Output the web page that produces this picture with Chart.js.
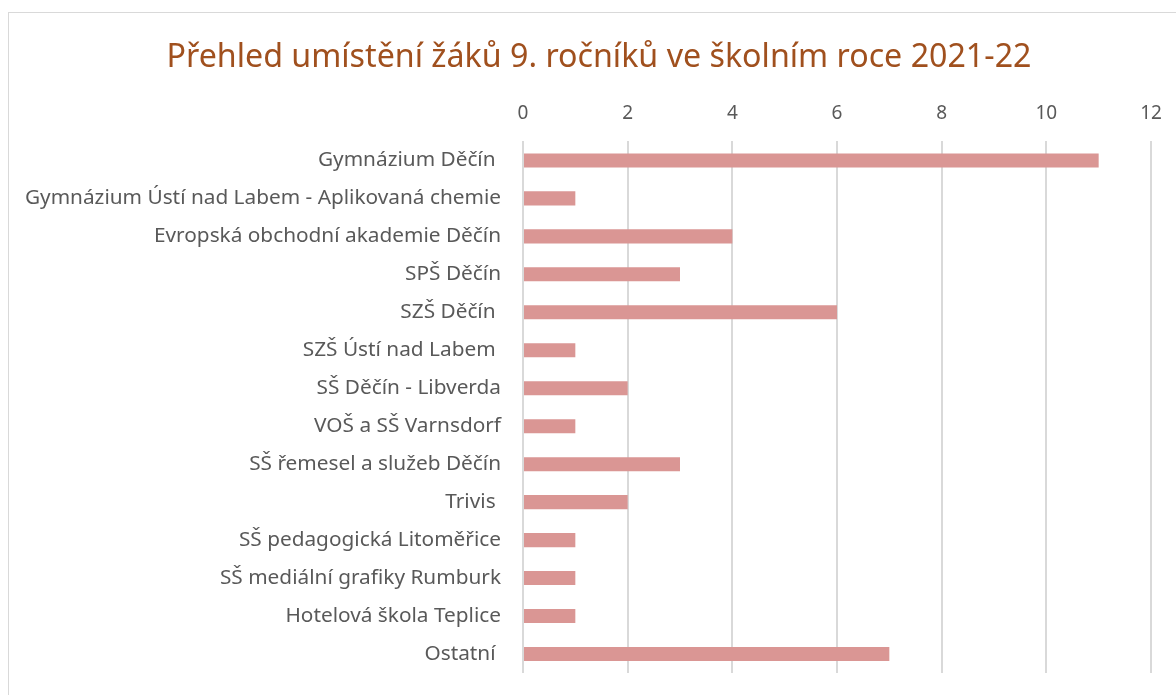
<!DOCTYPE html>
<html>
<head>
<meta charset="utf-8">
<script src="https://cdn.jsdelivr.net/npm/chart.js@4"></script>
<style>
  html, body { margin: 0; padding: 0; background: #fff; }
  #wrap { position: relative; width: 1176px; height: 695px; overflow: hidden; }
  #frame { position: absolute; left: 8px; top: 12px; width: 1200px; height: 720px; border: 1px solid #d9d9d9; }
  canvas { position: absolute; left: 0; top: 0; }
</style>
</head>
<body>
<div id="wrap">
  <div id="frame"></div>
  <canvas id="grafPrehled" width="1176" height="695"></canvas>
</div>
<script>
// školy (kategorie) a počty žáků
const skoly = [
  'Gymnázium Děčín ',
  'Gymnázium Ústí nad Labem - Aplikovaná chemie',
  'Evropská obchodní akademie Děčín',
  'SPŠ Děčín',
  'SZŠ Děčín ',
  'SZŠ Ústí nad Labem ',
  'SŠ Děčín - Libverda',
  'VOŠ a SŠ Varnsdorf',
  'SŠ řemesel a služeb Děčín',
  'Trivis ',
  'SŠ pedagogická Litoměřice',
  'SŠ mediální grafiky Rumburk',
  'Hotelová škola Teplice',
  'Ostatní '
];
const pocty = [11, 1, 4, 3, 6, 1, 2, 1, 3, 2, 1, 1, 1, 7];
const osaMax = 12;
const osaKrok = 2;

const ctx = document.getElementById('grafPrehled').getContext('2d');

new Chart(ctx, {
  type: 'bar',
  data: {
    labels: skoly,
    datasets: [{
      label: 'Počet žáků',
      data: pocty,
      backgroundColor: '#DA9694',
      barPercentage: 0.37,
      categoryPercentage: 1
    }]
  },
  options: {
    indexAxis: 'y',
    responsive: false,
    animation: false,
    // nesymetrické okraje, aby nadpis seděl trochu vpravo jako v originále
    layout: { padding: { left: 22, right: 0, top: 0, bottom: 22 } },
    plugins: {
      legend: { display: false },
      tooltip: { enabled: false },
      title: {
        display: true,
        text: 'Přehled umístění žáků 9. ročníků ve školním roce 2021-22',
        color: '#A0501E',
        font: { family: 'Noto Sans', size: 32.2, weight: 'normal' },
        padding: { top: 39, bottom: 9 }
      }
    },
    scales: {
      x: {
        position: 'top',
        min: 0,
        max: osaMax,
        ticks: {
          stepSize: osaKrok,
          color: '#595959',
          font: { family: 'Noto Sans', size: 19 },
          padding: 16
        },
        grid: { color: '#d9d9d9', lineWidth: 2, drawTicks: false },
        border: { display: false },
        afterFit: (s) => { s.paddingLeft = 0; s.paddingRight = 25; }
      },
      y: {
        ticks: {
          color: '#595959',
          font: { family: 'Noto Sans', size: 20.8 },
          padding: 22
        },
        grid: { display: false, drawTicks: false },
        border: { display: false },
        afterFit: (s) => { s.width = 501; s.paddingTop = 0; s.paddingBottom = 0; }
      }
    }
  }
});
</script>
</body>
</html>
